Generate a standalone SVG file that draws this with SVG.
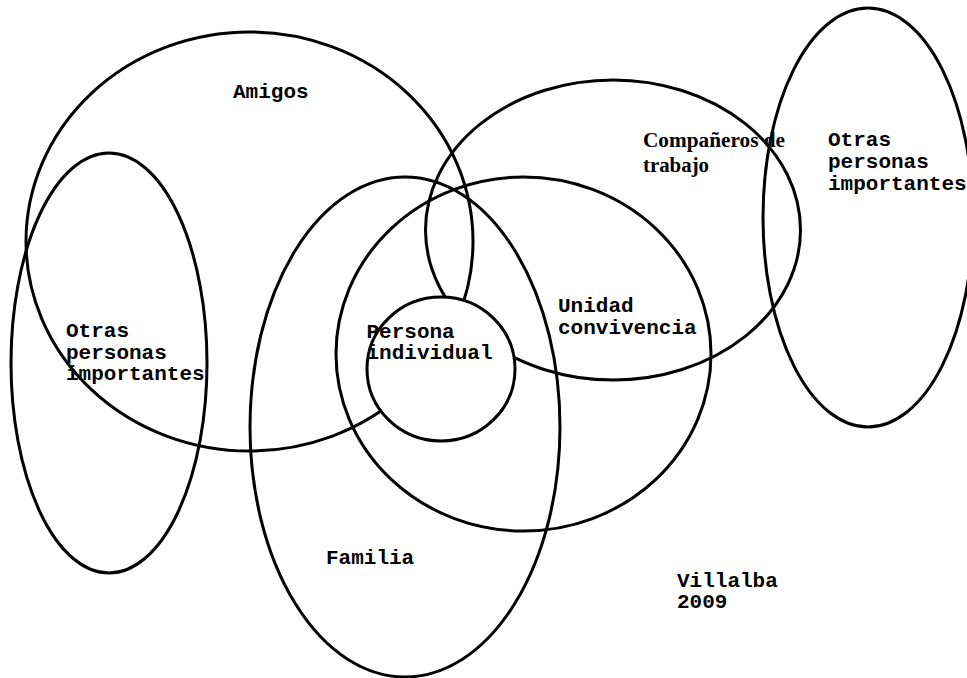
<svg xmlns="http://www.w3.org/2000/svg" width="967" height="678" viewBox="0 0 967 678">
<style>
.e{fill:none;stroke:#000;stroke-width:3}
.c{fill:#fff;stroke:#000;stroke-width:3}
.m{font-family:"Liberation Mono","Courier New",monospace;font-weight:bold;font-size:21px;fill:#000}
.s{font-family:"Liberation Serif","Times New Roman",serif;font-weight:bold;font-size:20px;fill:#000}
</style>
<rect width="967" height="678" fill="#fff"/>
<g id="connectors"></g>
<g id="amigos"><ellipse class="e" cx="249.5" cy="241.5" rx="223.5" ry="209.5"/><text class="m" x="233" y="98">Amigos</text></g>
<g id="otras-izq"><ellipse class="e" cx="109" cy="363" rx="98" ry="210"/><text class="m" x="66" y="337">Otras</text><text class="m" x="66" y="358.5">personas</text><text class="m" x="66" y="380">importantes</text></g>
<g id="familia"><ellipse class="e" cx="405" cy="427" rx="155" ry="250"/><text class="m" x="326" y="564">Familia</text></g>
<g id="unidad"><ellipse class="e" cx="523.5" cy="354" rx="187.5" ry="177"/><text class="m" x="558" y="312">Unidad</text><text class="m" x="558" y="334">convivencia</text></g>
<g id="companeros"><text class="s" x="643" y="147" textLength="142" lengthAdjust="spacingAndGlyphs">Compañeros de</text><text class="s" x="643" y="172" textLength="66" lengthAdjust="spacingAndGlyphs">trabajo</text><ellipse class="e" cx="613" cy="230" rx="187.5" ry="150"/></g>
<g id="otras-der"><ellipse class="e" cx="868" cy="217.5" rx="105" ry="209.5"/><text class="m" x="828" y="146">Otras</text><text class="m" x="828" y="168">personas</text><text class="m" x="828" y="190">importantes</text></g>
<g id="persona"><ellipse class="c" cx="441" cy="369" rx="74" ry="72"/><text class="m" x="366.5" y="338">Persona</text><text class="m" x="366.5" y="359">individual</text></g>
<g id="firma"><text class="m" x="677" y="587">Villalba</text><text class="m" x="677" y="608">2009</text></g>
</svg>
